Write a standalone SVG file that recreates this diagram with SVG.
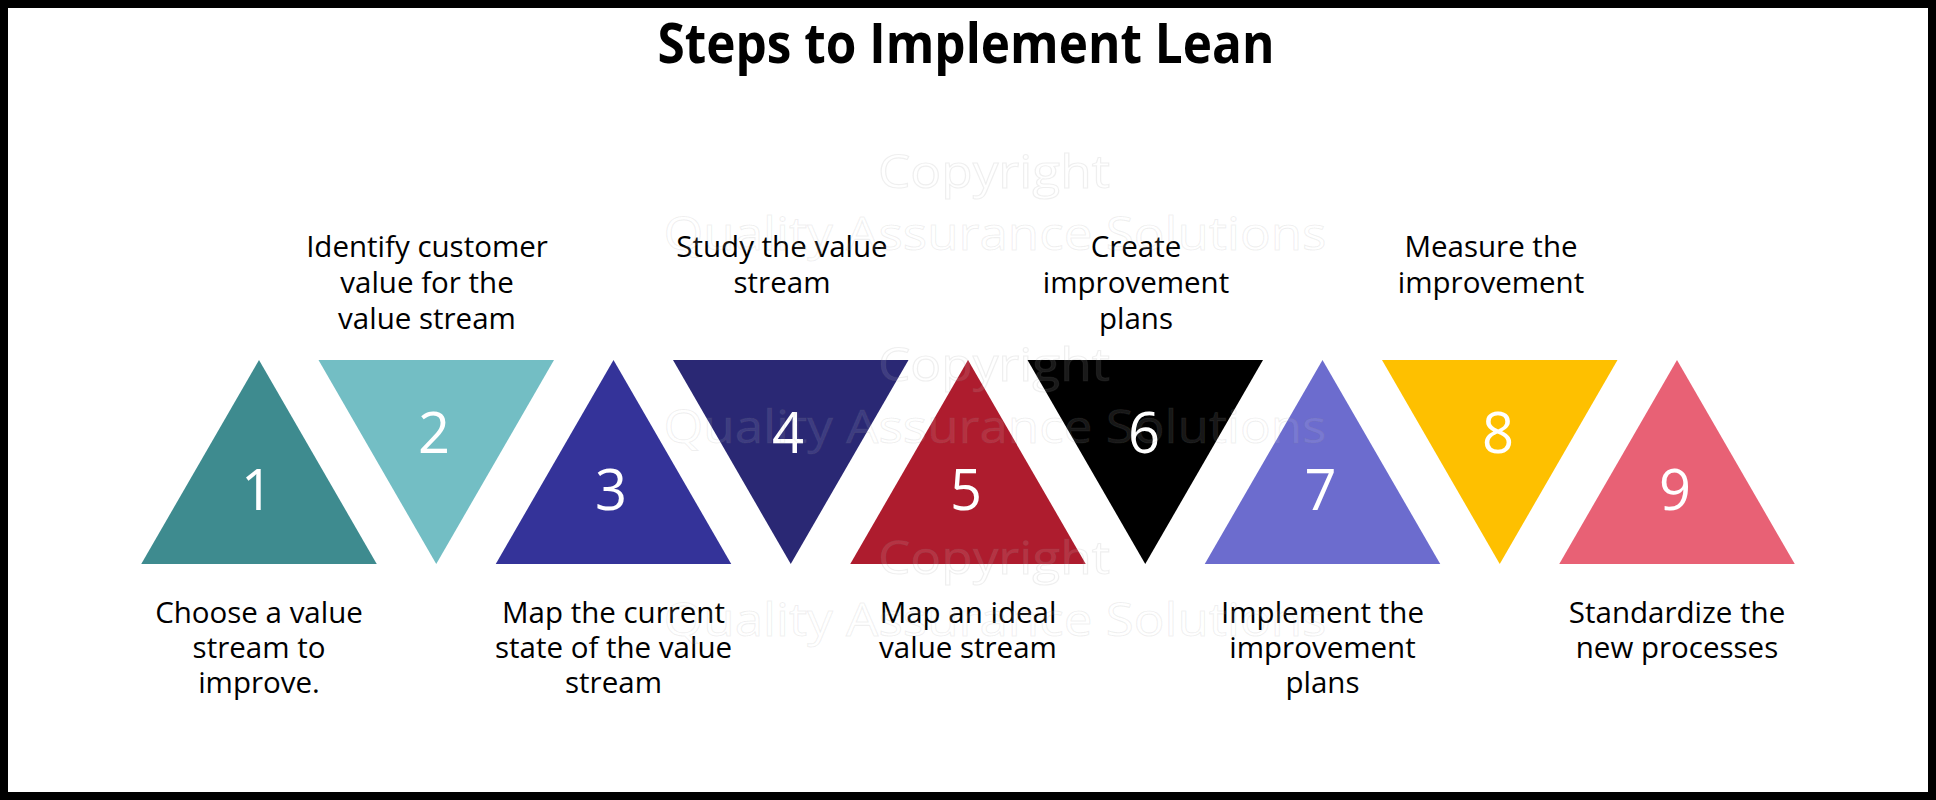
<svg xmlns="http://www.w3.org/2000/svg" width="1936" height="800" viewBox="0 0 1936 800">
<style>
.lbl{font-family:"Open Sans","Noto Sans","DejaVu Sans",sans-serif;font-size:29.5px;fill:#000;text-anchor:middle}
.num{font-family:"Open Sans","Noto Sans","DejaVu Sans",sans-serif;font-size:56px;fill:#fff;text-anchor:middle}
.title{font-family:"Open Sans","Noto Sans","DejaVu Sans",sans-serif;font-size:56px;font-weight:bold;fill:#000;text-anchor:middle}
.wm{font-family:"Open Sans","Noto Sans","DejaVu Sans",sans-serif;font-size:45px;fill:#fff;fill-opacity:0.1;stroke:#7f7f7f;stroke-opacity:0.12;stroke-width:1.1;text-anchor:middle}
</style>
<rect x="4" y="4" width="1928" height="792" fill="#fff" stroke="#000" stroke-width="8"/>
<text class="title" x="966" y="63" textLength="617" lengthAdjust="spacingAndGlyphs">Steps to Implement Lean</text>

<g id="step1">
<polygon points="259,360 376.75,564 141.25,564" fill="#3E8B8F"/>
<text class="num" x="257" y="510">1</text>
<text class="lbl" x="259" y="623">Choose a value</text>
<text class="lbl" x="259" y="658">stream to</text>
<text class="lbl" x="259" y="693">improve.</text>
</g>
<g id="step2">
<polygon points="318.5,360 554,360 436.25,564" fill="#73BEC4"/>
<text class="num" x="434" y="453">2</text>
<text class="lbl" x="427" y="257">Identify customer</text>
<text class="lbl" x="427" y="293">value for the</text>
<text class="lbl" x="427" y="329">value stream</text>
</g>
<g id="step3">
<polygon points="613.5,360 731.25,564 495.75,564" fill="#343399"/>
<text class="num" x="611" y="510">3</text>
<text class="lbl" x="613.5" y="623">Map the current</text>
<text class="lbl" x="613.5" y="658">state of the value</text>
<text class="lbl" x="613.5" y="693">stream</text>
</g>
<g id="step4">
<polygon points="673,360 908.5,360 790.75,564" fill="#2A2874"/>
<text class="num" x="788" y="453">4</text>
<text class="lbl" x="782" y="257">Study the value</text>
<text class="lbl" x="782" y="293">stream</text>
</g>
<g id="step5">
<polygon points="968,360 1085.75,564 850.25,564" fill="#AE1C2E"/>
<text class="num" x="966" y="510">5</text>
<text class="lbl" x="968" y="623">Map an ideal</text>
<text class="lbl" x="968" y="658">value stream</text>
</g>
<g id="step6">
<polygon points="1027.5,360 1263,360 1145.25,564" fill="#000000"/>
<text class="num" x="1144" y="453">6</text>
<text class="lbl" x="1136" y="257">Create</text>
<text class="lbl" x="1136" y="293">improvement</text>
<text class="lbl" x="1136" y="329">plans</text>
</g>
<g id="step7">
<polygon points="1322.5,360 1440.25,564 1204.75,564" fill="#6C6CCE"/>
<text class="num" x="1320.5" y="510">7</text>
<text class="lbl" x="1322.5" y="623">Implement the</text>
<text class="lbl" x="1322.5" y="658">improvement</text>
<text class="lbl" x="1322.5" y="693">plans</text>
</g>
<g id="step8">
<polygon points="1382,360 1617.5,360 1499.75,564" fill="#FEC000"/>
<text class="num" x="1498" y="453">8</text>
<text class="lbl" x="1491" y="257">Measure the</text>
<text class="lbl" x="1491" y="293">improvement</text>
</g>
<g id="step9">
<polygon points="1677,360 1794.75,564 1559.25,564" fill="#E86175"/>
<text class="num" x="1675" y="510">9</text>
<text class="lbl" x="1677" y="623">Standardize the</text>
<text class="lbl" x="1677" y="658">new processes</text>
</g>

<g id="watermark">
<text class="wm" x="994" y="188" textLength="232" lengthAdjust="spacingAndGlyphs">Copyright</text>
<text class="wm" x="995" y="250" textLength="663" lengthAdjust="spacingAndGlyphs">Quality Assurance Solutions</text>
<text class="wm" x="994" y="381" textLength="232" lengthAdjust="spacingAndGlyphs">Copyright</text>
<text class="wm" x="995" y="443" textLength="663" lengthAdjust="spacingAndGlyphs">Quality Assurance Solutions</text>
<text class="wm" x="994" y="574" textLength="232" lengthAdjust="spacingAndGlyphs">Copyright</text>
<text class="wm" x="995" y="636" textLength="663" lengthAdjust="spacingAndGlyphs">Quality Assurance Solutions</text>
</g>
</svg>
